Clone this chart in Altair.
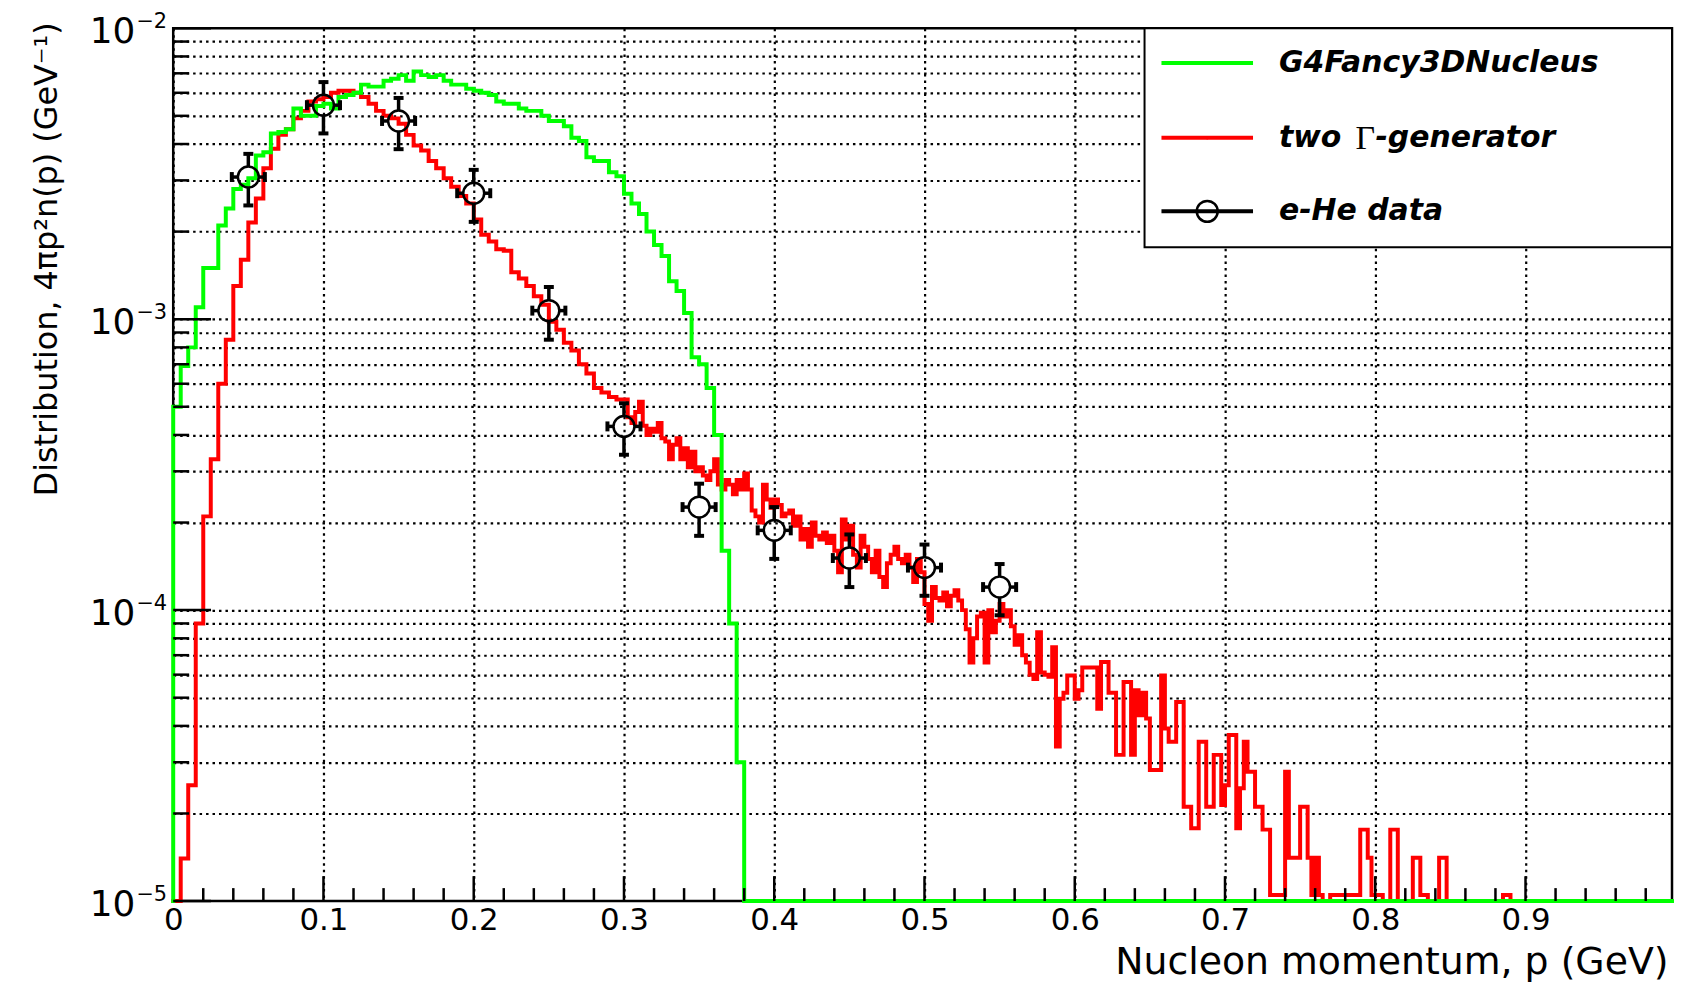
import altair as alt
import numpy as np
import pandas as pd

# ---------------- data ----------------
# green: 0.005-wide bins starting at p = 0
green_bin = 0.005
green_vals = [
    5.0e-4, 6.9e-4, 8.0e-4, 1.1e-3, 1.5e-3, 1.5e-3, 2.1e-3, 2.4e-3, 2.8e-3, 2.9e-3,
    3.05e-3, 3.65e-3, 3.75e-3, 4.35e-3, 4.4e-3, 4.5e-3, 5.3e-3, 5.0e-3, 5.0e-3, 5.4e-3,
    5.5e-3, 5.3e-3, 5.8e-3, 5.9e-3, 6.0e-3, 6.4e-3, 6.3e-3, 6.3e-3, 6.6e-3, 6.7e-3,
    6.9e-3, 6.6e-3, 7.1e-3, 6.9e-3, 6.8e-3, 6.9e-3, 6.6e-3, 6.4e-3, 6.4e-3, 6.2e-3,
    6.1e-3, 6.0e-3, 5.9e-3, 5.6e-3, 5.5e-3, 5.5e-3, 5.3e-3, 5.2e-3, 5.2e-3, 5.0e-3,
    4.8e-3, 4.8e-3, 4.6e-3, 4.2e-3, 4.1e-3, 3.6e-3, 3.5e-3, 3.5e-3, 3.2e-3, 3.1e-3,
    2.7e-3, 2.5e-3, 2.3e-3, 2.0e-3, 1.8e-3, 1.65e-3, 1.35e-3, 1.25e-3, 1.05e-3, 7.4e-4,
    7.0e-4, 5.8e-4, 4.0e-4, 1.6e-4, 9.0e-5, 3.0e-5,
]

# red: 0.005-wide bins from 0 to 0.30 ...
red_coarse_bin = 0.005
red_coarse = [
    0, 1.4e-5, 2.5e-5, 9.0e-5, 2.1e-4, 3.3e-4, 6.0e-4, 8.5e-4, 1.3e-3, 1.6e-3,
    2.15e-3, 2.6e-3, 3.3e-3, 3.85e-3, 4.3e-3, 4.5e-3, 4.9e-3, 5.2e-3, 5.6e-3, 5.7e-3,
    5.8e-3, 6.0e-3, 6.1e-3, 6.1e-3, 6.0e-3, 5.8e-3, 5.5e-3, 5.2e-3, 5.0e-3, 4.9e-3,
    4.7e-3, 4.3e-3, 3.95e-3, 3.8e-3, 3.5e-3, 3.3e-3, 3.05e-3, 2.85e-3, 2.65e-3, 2.5e-3,
    2.2e-3, 1.95e-3, 1.85e-3, 1.74e-3, 1.72e-3, 1.45e-3, 1.38e-3, 1.3e-3, 1.2e-3, 1.12e-3,
    9.8e-4, 9.2e-4, 8.3e-4, 7.8e-4, 7.0e-4, 6.5e-4, 5.8e-4, 5.6e-4, 5.4e-4, 5.3e-4,
]
# ... then 0.0025-wide bins from 0.30 to 0.90 (one row per 0.01)
red_fine_start = 0.30
red_fine_bin = 0.0025
red_fine = [
    5.3e-4, 4.6e-4, 4.4e-4, 4.8e-4,
    5.2e-4, 4.3e-4, 4.0e-4, 4.2e-4,
    4.1e-4, 4.4e-4, 3.9e-4, 3.8e-4,
    3.3e-4, 3.7e-4, 3.9e-4, 3.3e-4,
    3.6e-4, 3.1e-4, 3.5e-4, 3.0e-4,
    3.1e-4, 2.9e-4, 2.8e-4, 3.0e-4,
    3.3e-4, 2.7e-4, 2.6e-4, 2.8e-4,
    2.7e-4, 2.5e-4, 2.8e-4, 2.6e-4,
    2.95e-4, 2.6e-4, 2.2e-4, 2.1e-4,
    2.0e-4, 2.7e-4, 2.4e-4, 2.25e-4,
    2.4e-4, 2.3e-4, 2.1e-4, 2.15e-4,
    2.2e-4, 1.95e-4, 2.1e-4, 1.75e-4,
    1.9e-4, 1.65e-4, 2.0e-4, 1.8e-4,
    1.75e-4, 1.85e-4, 1.7e-4, 1.8e-4,
    1.6e-4, 1.35e-4, 2.05e-4, 1.75e-4,
    1.95e-4, 1.55e-4, 1.4e-4, 1.8e-4,
    1.65e-4, 1.5e-4, 1.35e-4, 1.6e-4,
    1.3e-4, 1.2e-4, 1.45e-4, 1.55e-4,
    1.65e-4, 1.5e-4, 1.45e-4, 1.55e-4,
    1.4e-4, 1.25e-4, 1.5e-4, 1.35e-4,
    1.05e-4, 9.2e-5, 1.2e-4, 1.1e-4,
    1.08e-4, 1.15e-4, 1.03e-4, 1.12e-4,
    1.17e-4, 1.08e-4, 1.0e-4, 8.6e-5,
    6.6e-5, 8.0e-5, 9.5e-5, 9.8e-5,
    6.6e-5, 1.0e-4, 8.4e-5, 9.2e-5,
    1.05e-4, 9.5e-5, 1.0e-4, 8.8e-5,
    7.6e-5, 8.2e-5, 7.0e-5, 6.6e-5,
    6.0e-5, 5.8e-5, 8.4e-5, 6.1e-5,
    6.0e-5, 5.9e-5, 7.45e-5, 3.4e-5,
    4.96e-5, 5.2e-5, 5.96e-5, 5.96e-5,
    4.96e-5, 5.3e-5, 6.35e-5, 6.35e-5,
    6.35e-5, 6.35e-5, 4.58e-5, 6.63e-5,
    6.63e-5, 5.2e-5, 5.2e-5, 3.18e-5,
    3.18e-5, 5.66e-5, 5.66e-5, 3.18e-5,
    5.3e-5, 4.35e-5, 5.2e-5, 4.24e-5,
    2.82e-5, 2.82e-5, 2.82e-5, 5.96e-5,
    3.92e-5, 3.53e-5, 3.53e-5, 4.83e-5,
    4.83e-5, 2.11e-5, 2.11e-5, 1.78e-5,
    1.78e-5, 3.53e-5, 3.53e-5, 2.11e-5,
    2.11e-5, 3.18e-5, 3.18e-5, 2.14e-5,
    2.5e-5, 3.72e-5, 3.72e-5, 1.78e-5,
    2.44e-5, 3.53e-5, 2.78e-5, 2.78e-5,
    2.11e-5, 2.11e-5, 1.76e-5, 1.76e-5,
    1.05e-5, 1.05e-5, 1.05e-5, 1.05e-5,
    2.78e-5, 1.41e-5, 1.41e-5, 1.41e-5,
    2.11e-5, 2.11e-5, 1.41e-5, 1.05e-5,
    1.41e-5, 1.05e-5, 0, 0,
    1.05e-5, 1.05e-5, 1.05e-5, 1.05e-5,
    1.05e-5, 1.05e-5, 1.05e-5, 1.05e-5,
    1.76e-5, 1.76e-5, 1.41e-5, 1.05e-5,
    1.05e-5, 1.05e-5, 0, 0,
    1.76e-5, 1.76e-5, 0, 0,
    0, 0, 1.41e-5, 1.41e-5,
    1.05e-5, 1.05e-5, 0, 0,
    0, 1.41e-5, 1.41e-5, 0,
    0, 0, 0, 0,
    0, 0, 0, 0,
    0, 0, 0, 0,
    0, 0, 1.05e-5, 1.05e-5,
    0, 0, 0, 0,
]

data_p = [0.05, 0.10, 0.15, 0.20, 0.25, 0.30, 0.35, 0.40, 0.45, 0.50, 0.55]
data_v = [3.08e-3, 5.44e-3, 4.80e-3, 2.71e-3, 1.07e-3, 4.28e-4, 2.26e-4, 1.88e-4, 1.51e-4, 1.40e-4, 1.20e-4]
data_err = [0.62e-3, 1.09e-3, 0.96e-3, 0.55e-3, 0.22e-3, 0.86e-4, 0.46e-4, 0.38e-4, 0.31e-4, 0.28e-4, 0.24e-4]
data_xerr = [0.011, 0.011, 0.011, 0.011, 0.011, 0.011, 0.011, 0.011, 0.011, 0.011, 0.011]

x_label_values = [0.0, 0.1, 0.2, 0.3, 0.4, 0.5, 0.6, 0.7, 0.8, 0.9]
decades = [1e-5, 1e-4, 1e-3, 1e-2]

legend_labels = ["G4Fancy3DNucleus", "two", "\u0393", "-generator", "e-He data"]
x_title = "Nucleon momentum, p (GeV)"
y_title = "Distribution, 4\u03c0p\u00b2n(p) (GeV\u207b\u00b9)"

# ---------------- layout / style ----------------
W, H = 1506, 877
FLOOR = 1e-5
XMAX = 0.9975
HIST_END = 1.0
FONT = "DejaVu Sans"
GREEN = "#00ff00"
RED = "#ff0000"
MARK_R = 10.5  # marker radius in px

xs = alt.Scale(domain=[0, XMAX], nice=False, zero=False)
ys = alt.Scale(type="log", domain=[1e-5, 1e-2], nice=False)

y_grid_vals = [k * 10.0 ** d for d in (-5, -4, -3) for k in range(1, 10) if not (k == 1 and d == -5)]

GRID = dict(grid=True, gridColor="black", gridDash=[2.5, 4], gridWidth=2.2, gridOpacity=1)
x_axis = alt.Axis(
    values=x_label_values, format=".1~f", ticks=False, domain=False,
    labelFont=FONT, labelFontSize=31, labelColor="black", labelPadding=5,
    labelFlush=False, labelOverlap=False, labelBound=False,
    title=x_title, titleFont=FONT, titleFontSize=38, titleFontWeight="normal",
    titleColor="black", titleAnchor="end", titleAlign="right",
    titleBaseline="alphabetic", titleX=W - 4, titleY=73, **GRID,
)
y_axis = alt.Axis(values=y_grid_vals, labels=False, ticks=False, domain=False, title=None, **GRID)

X = lambda f: alt.X(f"{f}:Q", scale=xs, axis=x_axis)
Y = lambda f: alt.Y(f"{f}:Q", scale=ys, axis=y_axis)


def hist_frame(segments):
    """segments: list of (start, bin width, values). Zero bins sit on the lower frame, as in ROOT."""
    ps, vs = [0.0], [FLOOR]
    end = 0.0
    for start, w, vals in segments:
        for i, v in enumerate(vals):
            ps.append(start + i * w)
            vs.append(v if v > FLOOR else FLOOR)
        end = start + len(vals) * w
    ps += [end, HIST_END]
    vs += [FLOOR, FLOOR]
    return pd.DataFrame({"p": ps, "v": vs, "i": list(range(len(ps)))})


red_df = hist_frame([(0.0, red_coarse_bin, red_coarse), (red_fine_start, red_fine_bin, red_fine)])
green_df = hist_frame([(0.0, green_bin, green_vals)])

line_style = dict(interpolate="step-after", strokeWidth=4, strokeJoin="miter", strokeCap="square")
red_line = alt.Chart(red_df).mark_line(color=RED, **line_style).encode(x=X("p"), y=Y("v"), order="i:Q")
green_line = alt.Chart(green_df).mark_line(color=GREEN, **line_style).encode(x=X("p"), y=Y("v"), order="i:Q")

# inner ticks (ROOT style)
x_major = [round(0.1 * k, 2) for k in range(1, 10)]
x_minor = [round(0.02 * k, 2) for k in range(1, 50) if k % 5 != 0]
y_minor = [k * 10.0 ** d for d in (-5, -4, -3) for k in range(2, 10)]


def xticks(vals, length):
    return alt.Chart(pd.DataFrame({"p": vals})).mark_rule(color="black", strokeWidth=2.5).encode(
        x=X("p"), y=alt.value(H), y2=alt.value(H - length))


def yticks(vals, length):
    return alt.Chart(pd.DataFrame({"v": vals})).mark_rule(color="black", strokeWidth=2.5).encode(
        y=Y("v"), x=alt.value(0), x2=alt.value(length))


tick_layers = [xticks(x_major, 25), xticks(x_minor, 13), yticks(decades, 38), yticks(y_minor, 16)]

# data points with error bars (bars stop at the marker edge)
gap = 10 ** (MARK_R / (H / 3.0))
xgap = MARK_R / W * XMAX
pts = pd.DataFrame({"p": data_p, "v": data_v, "e": data_err, "xe": data_xerr})
pts["hi"] = pts.v + pts.e
pts["lo"] = pts.v - pts.e
pts["hi0"] = pts.v * gap
pts["lo0"] = pts.v / gap
pts["xl"] = pts.p - pts.xe
pts["xr"] = pts.p + pts.xe
pts["xl0"] = pts.p - xgap
pts["xr0"] = pts.p + xgap

base = alt.Chart(pts)
bar_style = dict(color="black", strokeWidth=3.5)
cap = dict(size=10, thickness=4, color="black", opacity=1)
data_layers = [
    base.mark_rule(**bar_style).encode(x=X("p"), y=Y("hi0"), y2="hi:Q"),
    base.mark_rule(**bar_style).encode(x=X("p"), y=Y("lo"), y2="lo0:Q"),
    base.mark_rule(**bar_style).encode(x=X("xl"), x2="xl0:Q", y=Y("v")),
    base.mark_rule(**bar_style).encode(x=X("xr0"), x2="xr:Q", y=Y("v")),
    base.mark_tick(orient="horizontal", **cap).encode(x=X("p"), y=Y("hi")),
    base.mark_tick(orient="horizontal", **cap).encode(x=X("p"), y=Y("lo")),
    base.mark_tick(orient="vertical", **cap).encode(x=X("xl"), y=Y("v")),
    base.mark_tick(orient="vertical", **cap).encode(x=X("xr"), y=Y("v")),
    base.mark_point(shape="circle", filled=False, size=(2 * MARK_R) ** 2, color="black",
                    strokeWidth=2.5, opacity=1).encode(x=X("p"), y=Y("v")),
]

# legend
one = pd.DataFrame({"a": [0]})
LX0, LX1, LTX = 993, 1085, 1111
rows_y = [35, 110, 184]
leg_layers = [
    alt.Chart(one).mark_rect(fill="white", stroke="black", strokeWidth=2).encode(
        x=alt.value(976), x2=alt.value(W), y=alt.value(0), y2=alt.value(220)),
]
for col, yy in zip([GREEN, RED, "black"], rows_y):
    leg_layers.append(alt.Chart(one).mark_rule(color=col, strokeWidth=4).encode(
        x=alt.value(LX0), x2=alt.value(LX1), y=alt.value(yy)))
for col, yy in zip([GREEN, RED], rows_y[:2]):
    leg_layers.append(alt.Chart(one).mark_point(shape="circle", filled=True, size=12, color=col, opacity=1).encode(
        x=alt.value((LX0 + LX1) / 2), y=alt.value(yy)))
leg_layers.append(alt.Chart(one).mark_point(shape="circle", filled=False, size=(2 * MARK_R) ** 2,
                                            color="black", strokeWidth=2.5, opacity=1).encode(
    x=alt.value((LX0 + LX1) / 2), y=alt.value(rows_y[2])))

leg_text = dict(font=FONT, fontSize=30, fontStyle="italic", fontWeight="bold",
                align="left", baseline="middle", color="black")
leg_layers += [
    alt.Chart(one).mark_text(**leg_text).encode(x=alt.value(LTX), y=alt.value(rows_y[0]), text=alt.value(legend_labels[0])),
    alt.Chart(one).mark_text(**leg_text).encode(x=alt.value(LTX), y=alt.value(rows_y[1]), text=alt.value(legend_labels[1])),
    alt.Chart(one).mark_text(font="Liberation Serif", fontSize=34, align="left", baseline="middle", color="black").encode(
        x=alt.value(1188), y=alt.value(rows_y[1] + 1), text=alt.value(legend_labels[2])),
    alt.Chart(one).mark_text(**leg_text).encode(x=alt.value(1208), y=alt.value(rows_y[1]), text=alt.value(legend_labels[3])),
    alt.Chart(one).mark_text(**leg_text).encode(x=alt.value(LTX), y=alt.value(rows_y[2]), text=alt.value(legend_labels[4])),
]

# y tick labels 10^n
lab_df = pd.DataFrame({"v": decades, "ex": ["\u2212%d" % round(-np.log10(v)) for v in decades]})
label_layers = [
    alt.Chart(lab_df).mark_text(font=FONT, fontSize=36, align="right", baseline="middle", dy=4, color="black").encode(
        y=Y("v"), x=alt.value(-38), text=alt.value("10")),
    alt.Chart(lab_df).mark_text(font=FONT, fontSize=21, align="left", baseline="middle", dy=-6, color="black").encode(
        y=Y("v"), x=alt.value(-37), text="ex:N"),
    alt.Chart(one).mark_text(font=FONT, fontSize=32, angle=270, align="right", baseline="alphabetic", color="black").encode(
        x=alt.value(-117), y=alt.value(-6), text=alt.value(y_title)),
]

chart = alt.layer(
    red_line, green_line, *tick_layers, *data_layers, *leg_layers, *label_layers
).properties(
    width=W, height=H,
    padding={"left": 166, "top": 18, "right": 2, "bottom": 80},
    autosize=alt.AutoSizeParams(type="none"),
    background="white",
).configure_view(stroke="black", strokeWidth=2.5)

chart.save("out.html", embed_options={"renderer": "svg", "actions": False})
